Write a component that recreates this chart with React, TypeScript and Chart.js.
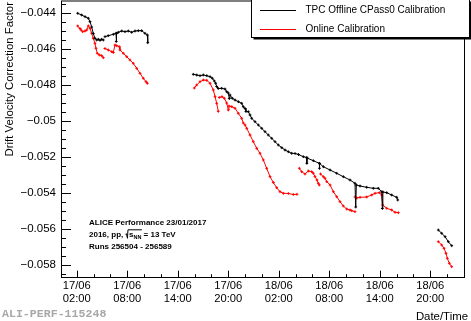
import React, { useEffect, useRef } from "react";
import { Chart, registerables } from "chart.js";
Chart.register(...registerables);

// hours since 17/06 00:00 ; null = gap between run groups
const offlineHours = [
  2.12, 2.59, 2.99, 3.38, 3.58, 3.78, 3.97, 4.17, 4.38, 4.57, 4.77, 4.97, 5.16, null,
  5.36, 5.75, 6.35, 6.67, 6.70, 6.75, 6.94, 7.35, 7.74, 8.13, 8.53, 8.93, 9.32, 9.72, 10.11, 10.39, 10.44, null,
  15.85, 16.26, 16.65, 17.04, 17.45, 17.84, 18.11, 18.35, 18.51, 18.63, 18.82, 19.23, 19.62, 19.82, 20.01, 20.13,
  20.21, 20.49, 20.81, 21.2, 21.6, 21.79, 22.0, 22.11, 22.39, 22.59, 22.79, 23.18, 23.58, 23.98, 24.37, 24.76,
  25.17, 25.56, 25.95, 26.36, 26.75, 27.14, 27.54, 27.94, 28.35, 28.92, 29.33, 29.34, 29.36, 30.11, 30.82, 30.84,
  30.86, 31.3, 32.1, 32.89, 33.67, 34.47, 35.06, 35.15, 35.22, 35.66, 36.45, 37.24, 37.83, 38.24, 38.31, 38.37,
  38.83, 39.42, 40.02, 40.14, null,
  44.96, 45.36, 45.76, 46.15, 46.55,
];
const offlineValues = [
  -0.044, -0.044095, -0.044189, -0.044278, -0.044467, -0.044762, -0.045124, -0.045391, -0.045485, -0.045446, -0.045502, -0.045446, -0.045485, null,
  -0.045302, -0.045246, -0.045168, -0.045112, -0.045568, -0.045112, -0.045057, -0.044984, -0.045023, -0.044984, -0.045057, -0.044984, -0.044968, -0.044968, -0.045112, -0.045207, -0.045635, null,
  -0.047393, -0.047432, -0.047471, -0.047432, -0.047471, -0.047526, -0.047615, -0.047766, -0.047893, -0.048071, -0.048183, -0.048172, -0.04821, -0.048361, -0.048433, -0.048739,
  -0.048544, -0.048728, -0.048822, -0.048917, -0.049006, -0.049195, -0.049295, -0.049462, -0.049473, -0.049657, -0.04984, -0.050029, -0.050213, -0.050396, -0.050585, -0.050769,
  -0.050953, -0.051142, -0.051325, -0.051475, -0.051603, -0.051698, -0.051787, -0.051798, -0.051854, -0.051976, -0.05202, -0.052343, -0.052048, -0.052198, -0.052343, -0.052621,
  -0.052354, -0.052532, -0.052716, -0.052899, -0.053088, -0.053272, -0.053455, -0.054774, -0.05355, -0.053605, -0.053678, -0.053734, -0.053734, -0.053923, -0.054857, -0.053939,
  -0.053978, -0.054106, -0.054234, -0.054384, null,
  -0.056053, -0.056236, -0.056425, -0.056704, -0.056926,
];
const onlineHours = [
  2.12, 2.39, 2.51, 2.71, 2.99, 3.19, 3.38, 3.58, 3.78, 3.97, 4.17, 4.29, 4.45, 4.69, 4.97, 5.16, null,
  5.36, 5.75, 6.16, 6.35, 6.55, 6.75, 7.06, 7.14, 7.54, 7.94, 8.33, 8.72, 9.13, 9.52, 9.91, 10.23, 10.39, null,
  15.97, 16.26, 16.65, 17.04, 17.45, 17.84, 18.23, 18.44, 18.63, 18.82, null,
  18.94, 19.26, 19.54, 19.82, 20.01, 20.09, 20.42, 20.81, 21.2, 21.6, 21.79, 22.0, 22.2, 22.59, 22.98, 23.39,
  23.78, 24.17, 24.57, 24.97, 25.36, 25.76, 26.15, 26.55, 27.14, 27.73, 28.17, null,
  28.45, 28.73, 29.12, 29.52, 29.92, 30.11, 30.31, 30.55, 30.7, 30.82, null,
  30.97, 31.3, 31.5, 31.71, 32.1, 32.49, 32.89, 33.28, 33.67, 34.08, 34.47, 34.67, 35.06, null,
  35.06, 35.27, 35.66, 36.45, 37.05, 37.44, 37.95, 38.24, 38.35, 38.83, 39.42, 39.82, 40.21, null,
  44.96, 45.36, 45.64, 45.87, 46.03, 46.27, 46.55,
];
const onlineValues = [
  -0.044706, -0.044845, -0.044929, -0.045023, -0.044984, -0.044929, -0.0447, -0.044834, -0.045112, -0.04539, -0.045669, -0.045947, -0.046225, -0.046319, -0.046358, -0.04647, null,
  -0.045958, -0.046041, -0.046136, -0.04618, -0.045763, -0.045802, -0.045858, -0.046041, -0.046225, -0.046414, -0.046597, -0.046781, -0.047059, -0.047337, -0.047615, -0.047804, -0.047893, null,
  -0.048155, -0.047988, -0.047804, -0.04771, -0.047727, -0.047893, -0.048266, -0.048639, -0.049006, -0.049451, null,
  -0.048683, -0.048639, -0.048728, -0.048989, -0.049378, -0.049156, -0.049195, -0.049284, -0.049562, -0.04984, -0.050102, -0.050213, -0.050396, -0.050769, -0.051142, -0.051509,
  -0.051787, -0.052159, -0.052621, -0.053088, -0.053411, -0.0537, -0.053923, -0.054012, -0.054023, -0.054078, -0.054067, null,
  -0.052621, -0.05281, -0.052938, -0.052771, -0.05281, -0.052899, -0.053088, -0.053272, -0.053455, -0.05355, null,
  -0.052938, -0.053088, -0.053177, -0.053367, -0.05355, -0.053923, -0.054201, -0.054479, -0.054718, -0.054885, -0.05494, -0.05498, -0.055035, null,
  -0.054217, -0.054273, -0.054234, -0.054217, -0.054106, -0.054012, -0.053978, -0.054106, -0.054662, -0.054846, -0.05494, -0.055068, -0.05509, null,
  -0.056704, -0.056887, -0.057071, -0.057349, -0.057627, -0.057905, -0.058094,
];

const seriesLabels = ["TPC Offline CPass0 Calibration", "Online Calibration"];
const seriesColors = ["#000000", "#ff0000"];
const xMin = 0.135;
const xMax = 48.01;
const yMin = -0.058706;
const yMax = -0.043316;
const yAxisTitle = "Drift Velocity Correction Factor";
const xAxisTitle = "Date/Time";
const days = ["17/06", "18/06"];
const infoLines = ["ALICE Performance 23/01/2017", "Runs 256504 - 256589"];
const watermark = "ALI-PERF-115248";

const FONT = '"Liberation Sans", Arial, Helvetica, sans-serif';

function toPoints(hours: (number | null)[], values: (number | null)[]) {
  return hours.map((h, i) => ({
    x: h ?? (hours[i - 1] as number),
    y: values[i],
  }));
}

function zeroPad(s: any) {
  s.paddingTop = 0;
  s.paddingBottom = 0;
  s.paddingLeft = 0;
  s.paddingRight = 0;
}

const decorPlugin = {
  id: "decor",
  afterDraw(chart: any) {
    const ctx = chart.ctx as CanvasRenderingContext2D;
    const a = chart.chartArea;
    const xs = chart.scales.x;
    const ys = chart.scales.y;
    ctx.save();
    ctx.strokeStyle = "#000";
    ctx.lineWidth = 1;
    // inward ticks
    ctx.beginPath();
    for (const t of ys.ticks) {
      const py = Math.round(ys.getPixelForValue(t.value)) + 0.5;
      const len = t.label ? 10 : 5;
      ctx.moveTo(a.left, py);
      ctx.lineTo(a.left + len, py);
    }
    for (const t of xs.ticks) {
      const px = Math.round(xs.getPixelForValue(t.value)) + 0.5;
      const len = Array.isArray(t.label) ? 7 : 3.5;
      ctx.moveTo(px, a.bottom);
      ctx.lineTo(px, a.bottom - len);
    }
    ctx.stroke();
    // frame
    ctx.strokeRect(Math.round(a.left) + 0.5, a.top, Math.round(a.right) - Math.round(a.left), Math.round(a.bottom) - a.top - 0.5);

    // axis titles
    ctx.fillStyle = "#000";
    ctx.font = `11.4px ${FONT}`;
    ctx.textAlign = "right";
    ctx.textBaseline = "alphabetic";
    ctx.fillText(xAxisTitle, 468, 319.5);
    ctx.save();
    ctx.translate(12.5, 2);
    ctx.rotate(-Math.PI / 2);
    ctx.fillText(yAxisTitle, 0, 0);
    ctx.restore();

    // info text
    ctx.textAlign = "left";
    ctx.font = `bold 8px ${FONT}`;
    const ix = 89;
    ctx.fillText(infoLines[0], ix, 225);
    let x = ix;
    const y2 = 237.3;
    const part1 = "2016, pp, ";
    ctx.fillText(part1, x, y2);
    x += ctx.measureText(part1).width;
    const sW = ctx.measureText("s").width;
    ctx.font = `bold 5.5px ${FONT}`;
    const nnW = ctx.measureText("NN").width;
    ctx.beginPath();
    ctx.moveTo(x, y2 - 3);
    ctx.lineTo(x + 1, y2 - 3.5);
    ctx.lineTo(x + 2, y2 + 1);
    ctx.lineTo(x + 2.5, y2 - 7.5);
    ctx.lineTo(x + 3.5 + sW + nnW + 0.5, y2 - 7.5);
    ctx.stroke();
    x += 3.5;
    ctx.font = `bold 8px ${FONT}`;
    ctx.fillText("s", x, y2);
    x += sW;
    ctx.font = `bold 5.5px ${FONT}`;
    ctx.fillText("NN", x, y2 + 1.8);
    x += nnW;
    ctx.font = `bold 8px ${FONT}`;
    ctx.fillText(" = 13 TeV", x, y2);
    ctx.fillText(infoLines[1], ix, 249.3);

    // watermark
    ctx.fillStyle = "#a8a8a8";
    ctx.font = `bold 11.6px "Liberation Mono", "Courier New", monospace`;
    ctx.fillText(watermark, 2, 317);

    // legend
    const lx = 251.5, ly = -0.5, lw = 218, lh = 38;
    ctx.fillStyle = "#000";
    ctx.fillRect(lx + 2, ly + 2, lw, lh);
    ctx.fillStyle = "#fff";
    ctx.fillRect(lx, ly, lw, lh);
    ctx.strokeStyle = "#000";
    ctx.strokeRect(lx, ly, lw, lh);
    ctx.font = `10px ${FONT}`;
    const rows = [10.5, 29.5];
    seriesLabels.forEach((label, i) => {
      ctx.strokeStyle = seriesColors[i];
      ctx.lineWidth = 1.2;
      ctx.beginPath();
      ctx.moveTo(260, rows[i]);
      ctx.lineTo(296, rows[i]);
      ctx.stroke();
      ctx.fillStyle = "#000";
      ctx.textBaseline = "middle";
      ctx.fillText(label, 305.5, rows[i]);
    });
    ctx.restore();
  },
};

export default function App() {
  const ref = useRef<HTMLCanvasElement | null>(null);
  useEffect(() => {
    if (!ref.current) return;
    const chart = new Chart(ref.current, {
      type: "line",
      data: {
        datasets: [
          { label: seriesLabels[0], data: toPoints(offlineHours, offlineValues) },
          { label: seriesLabels[1], data: toPoints(onlineHours, onlineValues) },
        ].map((d, i) => ({
          ...d,
          borderColor: seriesColors[i],
          backgroundColor: seriesColors[i],
          borderWidth: 1,
          pointStyle: "cross",
          pointRadius: 1.4,
          pointBorderWidth: 1,
          pointBorderColor: seriesColors[i],
          tension: 0,
          spanGaps: false,
          fill: false,
        })) as any,
      },
      options: {
        animation: false,
        responsive: false,
        devicePixelRatio: 1,
        layout: { autoPadding: false, padding: { left: 0, top: 1, right: 7, bottom: 0 } },
        plugins: { legend: { display: false }, tooltip: { enabled: false } },
        scales: {
          x: {
            type: "linear",
            min: xMin,
            max: xMax,
            grid: { display: false, drawTicks: false },
            border: { display: false },
            ticks: {
              stepSize: 2,
              includeBounds: false,
              autoSkip: false,
              maxRotation: 0,
              minRotation: 0,
              padding: 1.7,
              color: "#000",
              font: { family: FONT, size: 11.2, lineHeight: 1.19 },
              callback: (v: any) => {
                const h = Number(v);
                if (Math.abs((h - 2) % 6) > 1e-6) return "";
                const d = days[Math.floor(h / 24)];
                const hh = String(Math.round(h % 24)).padStart(2, "0");
                return [d, `${hh}:00`];
              },
            },
            afterFit: (s: any) => {
              s.height = 43.3;
              zeroPad(s);
            },
          },
          y: {
            type: "linear",
            min: yMin,
            max: yMax,
            grid: { display: false, drawTicks: false },
            border: { display: false },
            ticks: {
              stepSize: 0.0005,
              includeBounds: false,
              autoSkip: false,
              padding: 5,
              color: "#000",
              font: { family: FONT, size: 11.5 },
              callback: (v: any) => {
                const n = Number(v);
                const k = n / 0.002;
                if (Math.abs(k - Math.round(k)) > 1e-6) return "";
                return "\u2212" + String(parseFloat((-n).toFixed(3)));
              },
            },
            afterFit: (s: any) => {
              s.width = 61;
              zeroPad(s);
            },
          },
        },
      },
      plugins: [decorPlugin],
    });
    return () => chart.destroy();
  }, []);
  return (
    <div style={{ position: "absolute", left: 0, top: 0, width: 471, height: 321, background: "#fff" }}>
      <canvas ref={ref} width={471} height={321} style={{ width: 471, height: 321, display: "block" }} />
    </div>
  );
}
